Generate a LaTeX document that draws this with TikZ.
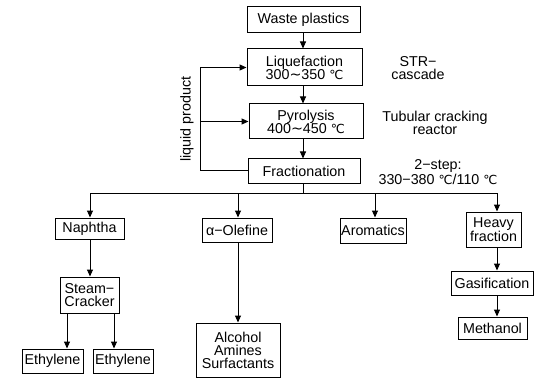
\documentclass[tikz,border=0pt]{standalone}
\usepackage{fontspec}
\setmainfont{Liberation Sans}
\newfontfamily\dejavu{DejaVu Sans}
\usetikzlibrary{arrows.meta}
\newcommand\degC{{\dejavu\fontsize{12.5pt}{13pt}\selectfont ℃}}
\newcommand\tld{{\dejavu ∼}}
\tikzset{
  fs/.style={font=\fontsize{14.3pt}{13pt}\selectfont},
  box/.style={draw, line width=1pt, inner sep=0pt, align=center, fs},
  lbl/.style={inner sep=0pt, align=center, fs},
  ln/.style={line width=1pt},
  arr/.style={line width=1pt, -{Triangle[length=7pt,width=6pt]}},
}
\begin{document}
\begin{tikzpicture}[x=1pt,y=-1pt]
\useasboundingbox (0,0) rectangle (534,379);
% main column
\node[box, minimum width=113pt, minimum height=26pt] (waste) at (303.5,20) {Waste plastics};
\node[box, minimum width=115pt, minimum height=37pt] (liq) at (304.5,67.5) {Liquefaction\\300\tld350 \degC};
\node[box, minimum width=114pt, minimum height=35pt] (pyr) at (306,121.5) {Pyrolysis\\400\tld450 \degC};
\node[box, minimum width=112pt, minimum height=24pt] (frac) at (304,171) {Fractionation};
% side labels
\node[lbl] (str) at (418,68) {STR−\\cascade};
\node[lbl] (tub) at (435,123) {Tubular cracking\\reactor};
\node[lbl] (two) at (438,172) {2−step:\\330−380 \degC/110 \degC};
\node[lbl, rotate=90] (lq) at (187,119) {liquid product};
% products
\node[box, minimum width=69pt, minimum height=21pt] (naph) at (89.5,228.5) {Naphtha};
\node[box, minimum width=70pt, minimum height=24pt] (olef) at (237,230) {α−Olefine};
\node[box, minimum width=66pt, minimum height=25pt] (arom) at (373,230.5) {Aromatics};
\node[box, minimum width=55pt, minimum height=35pt] (heavy) at (493.5,229.5) {Heavy\\fraction};
\node[box, minimum width=59pt, minimum height=36pt] (steam) at (89.5,295) {Steam−\\Cracker};
\node[box, minimum width=61pt, minimum height=24pt] (eth1) at (52.5,361) {Ethylene};
\node[box, minimum width=60pt, minimum height=24pt] (eth2) at (123,361) {Ethylene};
\node[box, minimum width=84pt, minimum height=54pt] (alc) at (238,350) {Alcohol\\Amines\\Surfactants};
\node[box, minimum width=82pt, minimum height=24pt] (gas) at (492,283) {Gasification};
\node[box, minimum width=69pt, minimum height=22pt] (meth) at (492.5,328) {Methanol};
% coordinates
\coordinate (tr) at (303,0);
\coordinate (lp) at (200,0);
\coordinate (busL) at (90,193);
\coordinate (b2) at (238,193);
\coordinate (b3) at (375,193);
\coordinate (busR) at (497,193);
\coordinate (e1x) at (67,0);
\coordinate (e2x) at (114,0);
% main arrows
\draw[arr] (waste.south -| tr) -- (liq.north -| tr);
\draw[arr] (liq.south -| tr) -- (pyr.north -| tr);
\draw[arr] (pyr.south -| tr) -- (frac.north -| tr);
% recycle loop
\draw[ln] (frac.west) -- (frac.west -| lp) -- (lp |- liq.west);
\draw[arr] (lp |- liq.west) -- (liq.west);
\draw[arr] (lp |- pyr.west) -- (pyr.west);
% distribution
\draw[ln] (frac.south -| tr) -- (tr |- busL);
\draw[ln] (busL) -- (busR);
\draw[arr] (busL) -- (busL |- naph.north);
\draw[arr] (b2) -- (b2 |- olef.north);
\draw[arr] (b3) -- (b3 |- arom.north);
\draw[arr] (busR) -- (busR |- heavy.north);
% sub-chains
\draw[arr] (naph.south -| busL) -- (steam.north -| busL);
\draw[arr] (steam.south -| e1x) -- (eth1.north -| e1x);
\draw[arr] (steam.south -| e2x) -- (eth2.north -| e2x);
\draw[arr] (olef.south -| b2) -- (alc.north -| b2);
\draw[arr] (heavy.south -| busR) -- (gas.north -| busR);
\draw[arr] (gas.south -| busR) -- (meth.north -| busR);
\end{tikzpicture}
\end{document}
